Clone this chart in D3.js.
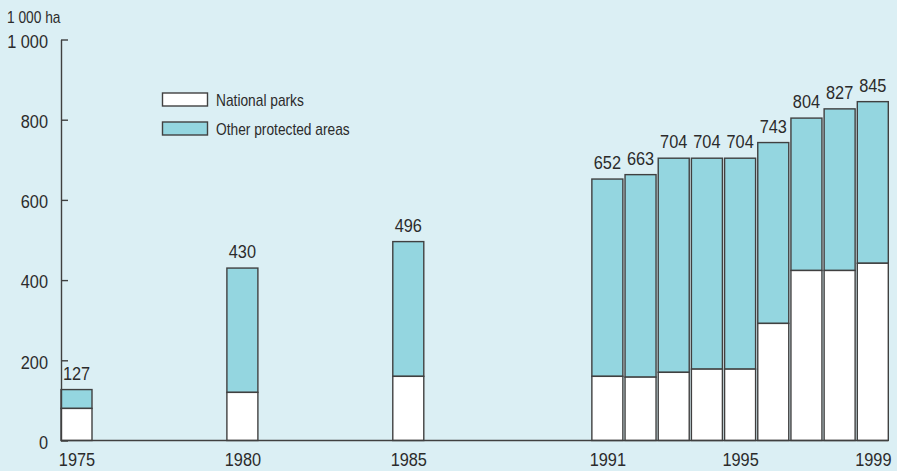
<!DOCTYPE html>
<html><head><meta charset="utf-8">
<script src="https://cdn.jsdelivr.net/npm/d3@7/dist/d3.min.js"></script>
<style>
html,body{margin:0;padding:0;background:#dbeff4;}
svg{display:block;font-family:"Liberation Sans",Arial,sans-serif;}
</style></head><body>
<svg id="c" width="897" height="471"></svg>
<script>
const years = [1975, 1980, 1985, 1991, 1992, 1993, 1994, 1995, 1996, 1997, 1998, 1999];
const totals = [127, 430, 496, 652, 663, 704, 704, 704, 743, 804, 827, 845];
const nationalParks = [80, 120, 160, 160, 158, 170, 178, 178, 292, 424, 424, 442];
const yTicks = [0, 200, 400, 600, 800, 1000];
const xTickYears = [1975, 1980, 1985, 1991, 1995, 1999];
const seriesNames = ["National parks", "Other protected areas"];

const W = 897, H = 471;
const SX = 0.86; // condensed look
const svg = d3.select("#c");
svg.append("rect").attr("width", W).attr("height", H).attr("fill", "#dbeff4");

const x = d3.scaleLinear().domain([1975, 1999]).range([76.5, 872.8]);
const y = d3.scaleLinear().domain([0, 1000]).range([440.5, 39.5]);
const bw = 31;
const colors = ["#ffffff", "#94d6e0"];
const stroke = "#404040";
const textColor = "#2b2b2b";

function label(parent, tx, ty, str, size, anchor) {
  return parent.append("text")
    .attr("transform", `translate(${tx},${ty}) scale(${SX},1)`)
    .attr("text-anchor", anchor || "start")
    .attr("font-size", size).attr("fill", textColor).text(str);
}

// bars
const g = svg.append("g");
years.forEach((yr, i) => {
  const np = nationalParks[i], tot = totals[i];
  g.append("rect").attr("x", x(yr) - bw / 2).attr("y", y(tot)).attr("width", bw)
    .attr("height", y(np) - y(tot)).attr("fill", colors[1]).attr("stroke", stroke).attr("stroke-width", 1.4);
  g.append("rect").attr("x", x(yr) - bw / 2).attr("y", y(np)).attr("width", bw)
    .attr("height", y(0) - y(np)).attr("fill", colors[0]).attr("stroke", stroke).attr("stroke-width", 1.4);
  label(g, x(yr), y(tot) - 10, tot, 19, "middle");
});

// y axis
const fmt = d => d >= 1000 ? "1 000" : String(d);
const yAxis = svg.append("g").attr("transform", "translate(61,0)")
  .call(d3.axisLeft(y).tickValues(yTicks).tickSizeInner(-7).tickSizeOuter(0).tickPadding(13).tickFormat(fmt));
yAxis.select(".domain").attr("stroke", stroke).attr("stroke-width", 1.4);
yAxis.selectAll(".tick line").attr("stroke", stroke).attr("stroke-width", 1.4);
yAxis.selectAll(".tick text").attr("font-size", 19).attr("fill", textColor)
  .attr("font-family", "Liberation Sans, Arial, sans-serif")
  .attr("x", 0).attr("dy", "0.36em").attr("transform", `translate(-13,1) scale(${SX},1)`);

// x axis
const xAxis = svg.append("g").attr("transform", `translate(0,${y(0)})`)
  .call(d3.axisBottom(x).tickValues(xTickYears).tickSize(0).tickPadding(12).tickFormat(d3.format("d")));
xAxis.select(".domain").attr("d", `M61,0H888`).attr("stroke", stroke).attr("stroke-width", 1.4);
xAxis.selectAll(".tick text").attr("font-size", 19).attr("fill", textColor)
  .attr("font-family", "Liberation Sans, Arial, sans-serif")
  .attr("y", 0).attr("transform", `translate(0,12) scale(${SX},1)`);

// unit label
label(svg, 7, 23, "1 000 ha", 16, "start");

// legend
const leg = svg.append("g");
seriesNames.forEach((n, i) => {
  const yy = 93 + i * 29;
  leg.append("rect").attr("x", 162.5).attr("y", yy).attr("width", 45).attr("height", 13)
    .attr("fill", colors[i]).attr("stroke", stroke).attr("stroke-width", 1.4);
  label(leg, 216, yy + 12.5, n, 16, "start");
});
</script></body></html>
